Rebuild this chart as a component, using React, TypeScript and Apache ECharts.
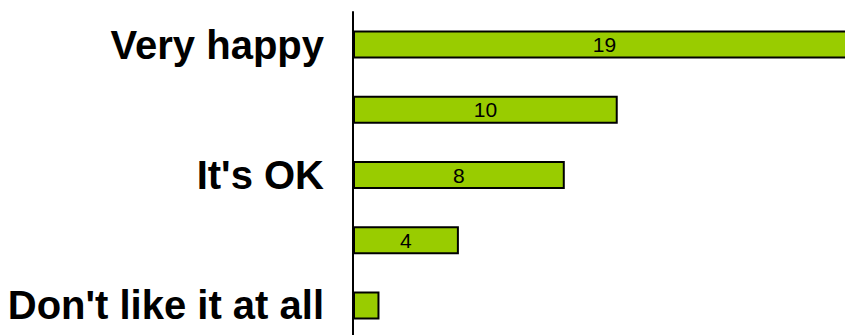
import React, { useEffect, useRef } from "react";
import * as echarts from "echarts";

const categories = ["Very happy", "", "It's OK", "", "Don't like it at all"];
const values = [19, 10, 8, 4, 1];
const showValueLabel = [true, true, true, true, false];
const xMax = 19;

export default function App() {
  const ref = useRef<HTMLDivElement>(null);
  useEffect(() => {
    if (!ref.current) return;
    const chart = echarts.init(ref.current, undefined, { renderer: "svg" });
    const labelStyle = {
      position: "inside",
      color: "#000",
      fontFamily: "Liberation Sans, Arial, sans-serif",
      fontSize: 21,
    };
    chart.setOption({
      animation: false,
      backgroundColor: "#ffffff",
      grid: {
        left: 353,
        top: 12,
        width: 503,
        height: 326,
        containLabel: false,
        outerBoundsMode: "none",
      },
      xAxis: {
        type: "value",
        min: 0,
        max: xMax,
        show: false,
        splitLine: { show: false },
      },
      yAxis: {
        type: "category",
        data: categories,
        inverse: true,
        axisLine: { show: true, lineStyle: { color: "#000", width: 2 } },
        axisTick: { show: false },
        axisLabel: {
          interval: 0,
          margin: 29,
          fontFamily: "Liberation Sans, Arial, sans-serif",
          fontWeight: "bold",
          fontSize: 40,
          color: "#000",
        },
      },
      series: [
        {
          type: "bar",
          barWidth: 28,
          data: values.map((v, i) => ({
            value: v,
            label: { ...labelStyle, show: showValueLabel[i] },
          })),
          itemStyle: { color: "#99CC00", borderColor: "#000", borderWidth: 2 },
          label: { ...labelStyle, show: true },
        },
      ],
    });
    return () => chart.dispose();
  }, []);
  return <div ref={ref} style={{ width: 845, height: 335, position: "absolute", left: 0, top: 0 }} />;
}
